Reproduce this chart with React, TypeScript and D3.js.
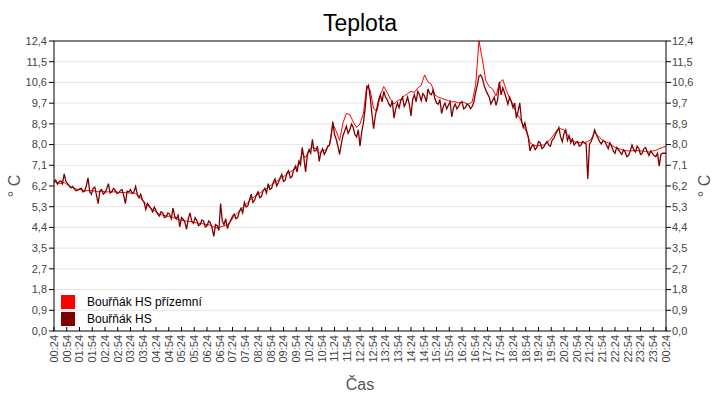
import React from "react";
import * as d3 from "d3";

const title = "Teplota";
const xAxisTitle = "Čas";
const yAxisTitle = "° C";
const seriesNames = ["Bouřňák HS přízemní", "Bouřňák HS"];
const seriesColors = ["#ff0000", "#800000"];

const yTickLabels = ["0,0", "0,9", "1,8", "2,7", "3,5", "4,4", "5,3", "6,2", "7,1", "8,0", "8,9", "9,7", "10,6", "11,5", "12,4"];
const yMax = 12.4;

const xTickLabels = [
  "00:24", "00:54", "01:24", "01:54", "02:24", "02:54", "03:24", "03:54", "04:24", "04:54",
  "05:24", "05:54", "06:24", "06:54", "07:24", "07:54", "08:24", "08:54", "09:24", "09:54",
  "10:24", "10:54", "11:24", "11:54", "12:24", "12:54", "13:24", "13:54", "14:24", "14:54",
  "15:24", "15:54", "16:24", "16:54", "17:24", "17:54", "18:24", "18:54", "19:24", "19:54",
  "20:24", "20:54", "21:24", "21:54", "22:24", "22:54", "23:24", "23:54", "00:24",
];
const tickStepMinutes = 30;
const totalMinutes = 1440;
const groundStepMinutes = 8;
const hsStepMinutes = 4;

// Bouřňák HS přízemní (red), one value every 8 minutes from 00:24
const groundValues = [
  6.4, 6.35, 6.3, 6.35, 6.25, 6.15, 6.1, 6.05, 6.05, 6.0,
  6.0, 6.0, 5.98, 5.95, 5.98, 5.95, 5.95, 5.95, 5.95, 5.93,
  5.92, 5.92, 5.9, 5.9, 5.88, 5.75, 5.6, 5.45, 5.3, 5.2,
  5.1, 5.0, 4.95, 4.92, 4.9, 4.85, 4.8, 4.75, 4.72, 4.7,
  4.68, 4.65, 4.62, 4.6, 4.58, 4.55, 4.52, 4.45, 4.4, 4.45,
  4.5, 4.55, 4.7, 4.9, 5.05, 5.2, 5.35, 5.5, 5.65, 5.75,
  5.85, 5.95, 6.05, 6.15, 6.25, 6.35, 6.45, 6.55, 6.65, 6.75,
  6.85, 6.95, 7.15, 7.6, 7.4, 7.75, 7.85, 7.8, 7.6, 7.7,
  7.75, 7.95, 8.85, 8.55, 8.15, 8.9, 9.3, 9.25, 8.95, 8.7,
  8.85, 9.3, 10.5, 10.3, 9.5, 9.4, 10.1, 10.45, 10.2, 9.9,
  9.7, 9.85, 9.9, 10.05, 10.15, 10.25, 10.2, 10.4, 10.5, 10.95,
  10.65, 10.55, 10.1, 10.0, 9.95, 9.9, 9.85, 9.8, 9.8, 9.75,
  9.8, 9.75, 9.7, 9.8, 10.5, 12.4, 11.6, 10.7, 10.45, 10.35,
  10.05, 10.6, 10.75, 10.3, 9.95, 9.7, 9.3, 9.1, 8.8, 8.5,
  8.05, 7.95, 7.9, 7.95, 7.95, 8.05, 8.2, 8.4, 8.6, 8.65,
  8.6, 8.4, 8.2, 8.1, 8.05, 8.05, 8.05, 8.1, 8.2, 8.5,
  8.35, 8.2, 8.1, 8.05, 7.95, 7.85, 7.8, 7.75, 7.72, 7.7,
  7.7, 7.72, 7.7, 7.7, 7.68, 7.65, 7.7, 7.72, 7.8, 7.85,
  7.9,
];

// Bouřňák HS (dark red), one value every 4 minutes from 00:24
const hsValues = [
  6.35, 6.45, 6.28, 6.38, 6.42, 6.3, 6.72, 6.4, 6.3, 6.2,
  6.12, 6.18, 6.08, 6.0, 6.02, 6.08, 6.1, 5.95, 5.98, 6.2,
  6.55, 5.95, 5.85, 6.1, 6.15, 5.8, 5.45, 6.0, 6.05, 5.85,
  5.92, 6.08, 6.3, 5.9, 5.95, 6.1, 6.02, 5.88, 5.9, 6.0,
  6.05, 5.8, 5.45, 5.98, 5.95, 6.05, 5.88, 5.95, 6.18, 5.85,
  5.7, 5.85, 5.6, 5.5, 5.2, 5.45, 5.35, 5.25, 5.1, 5.3,
  5.15, 5.0, 4.92, 5.1, 5.05, 4.85, 4.88, 5.05, 5.0, 4.8,
  5.25, 4.9, 4.8, 4.95, 4.45, 4.85, 4.78, 4.65, 4.35, 4.8,
  5.05, 4.7, 4.6, 4.85, 4.72, 4.5, 4.55, 4.75, 4.7, 4.45,
  4.5, 4.7, 4.62, 4.4, 4.05, 4.55, 4.5, 4.3, 5.45, 4.7,
  4.55, 4.8, 4.38, 4.6, 4.75, 4.9, 5.0, 4.8, 4.85, 5.1,
  5.25, 5.05, 5.5, 5.3, 5.35, 5.6, 5.85, 5.5, 5.6, 5.8,
  5.95, 5.7, 5.75, 6.0, 6.1, 5.9, 6.3, 6.05, 6.1, 6.35,
  6.5, 6.2, 6.35, 6.55, 6.7, 6.4, 6.45, 6.75, 6.85, 6.55,
  6.6, 6.9, 7.05, 6.8, 7.25, 7.1, 7.85, 7.4, 6.8, 7.5,
  7.75, 7.6, 8.2, 7.7, 7.7, 7.9, 7.25, 7.65, 7.8, 7.55,
  7.7, 7.9, 7.95, 8.3, 8.95, 8.4, 8.2, 7.9, 7.55, 8.0,
  8.35, 8.55, 8.75, 8.45, 8.6, 8.85, 8.7, 8.4, 8.3, 8.6,
  7.9, 8.5, 8.9, 9.5, 10.35, 10.5, 10.0, 9.3, 8.65, 9.2,
  9.55, 9.9, 10.1, 9.8, 10.25, 10.0, 9.9, 9.7, 9.6, 9.85,
  9.1, 9.5, 9.75, 9.55, 9.85, 10.0, 9.6, 9.75, 10.0, 9.7,
  9.2, 9.9, 10.1, 9.8, 10.25, 10.1, 9.85, 10.15, 10.05, 9.8,
  10.35, 10.15, 10.1, 10.3, 9.95, 9.75, 9.7, 9.9, 9.3, 9.6,
  9.75, 9.5, 9.65, 9.8, 9.15, 9.55, 9.7, 9.5, 9.6, 9.75,
  9.8, 9.5, 9.55, 9.7, 9.65, 9.5, 9.6, 9.8, 10.2, 10.5,
  10.9, 10.95, 10.8, 10.5, 10.3, 10.15, 10.0, 9.7, 9.85, 10.0,
  9.65, 9.9, 10.65, 10.1, 10.4, 10.2, 9.95, 9.7, 10.0, 9.8,
  9.55, 9.75, 9.1, 9.4, 9.75, 9.0, 8.7, 8.9, 8.55, 8.3,
  7.7, 7.9, 7.95, 7.75, 7.85, 8.1, 8.05, 7.8, 7.85, 8.0,
  8.1, 7.95, 7.9, 8.15, 8.25, 8.4, 8.55, 8.7, 8.3, 8.1,
  8.45, 8.6, 8.15, 8.35, 8.05, 8.2, 7.95, 8.05, 8.1, 7.9,
  7.95, 8.1, 8.05, 8.0, 6.5, 8.0, 8.1, 8.3, 8.6, 8.4,
  8.25, 8.1, 8.0, 8.15, 8.1, 7.95, 7.8, 8.05, 7.9, 7.7,
  7.6, 7.85, 7.75, 7.65, 7.55, 7.75, 7.65, 7.45, 7.5, 7.7,
  7.95, 7.75, 7.65, 7.9, 7.8, 7.55, 7.6, 7.8, 7.85, 7.65,
  7.5, 7.7, 7.6, 7.5, 7.45, 7.6, 7.05, 7.55, 7.6, 7.6,
  7.6,
];

const W = 720;
const H = 400;
const M = { left: 54, right: 666, top: 41, bottom: 331 };
const FONT = "Arial, 'Liberation Sans', Helvetica, sans-serif";

export default function App() {
  const x = d3.scaleLinear().domain([0, totalMinutes]).range([M.left, M.right]);
  const y = d3.scaleLinear().domain([0, yMax]).range([M.bottom, M.top]);

  const makeLine = (step: number) =>
    d3
      .line<number>()
      .x((_, i) => x(i * step))
      .y((d) => y(Math.min(d, yMax)));

  const yTicks = yTickLabels.map((label, i) => ({ label, v: (i * yMax) / (yTickLabels.length - 1) }));
  const xTicks = xTickLabels.map((label, i) => ({ label, m: i * tickStepMinutes }));
  const series = [
    { vals: groundValues, step: groundStepMinutes, width: 1 },
    { vals: hsValues, step: hsStepMinutes, width: 1.3 },
  ];

  const tickColor = "#444";
  return (
    <svg width={W} height={H} style={{ position: "absolute", left: 0, top: 0, background: "#fff" }} fontFamily={FONT}>
      <rect x={0} y={0} width={W} height={H} fill="#fff" />
      <text x={360} y={31} textAnchor="middle" fontSize={23} fill="#000">{title}</text>

      {yTicks.map((t, i) => (
        <g key={"g" + i}>
          {i > 0 && i < yTicks.length - 1 && (
            <line x1={M.left} x2={M.right} y1={y(t.v)} y2={y(t.v)} stroke="#e6e6e6" strokeWidth={1} />
          )}
          <line x1={M.left - 5} x2={M.left} y1={y(t.v)} y2={y(t.v)} stroke="#000" />
          <line x1={M.right} x2={M.right + 5} y1={y(t.v)} y2={y(t.v)} stroke="#000" />
          <text x={M.left - 7} y={y(t.v)} dy="0.35em" textAnchor="end" fontSize={11} fill={tickColor}>{t.label}</text>
          <text x={M.right + 6} y={y(t.v)} dy="0.35em" textAnchor="start" fontSize={11} fill={tickColor}>{t.label}</text>
        </g>
      ))}

      {xTicks.map((t, i) => (
        <g key={"x" + i}>
          <line x1={x(t.m)} x2={x(t.m)} y1={M.bottom} y2={M.bottom - 4} stroke="#000" />
          <text
            transform={`translate(${x(t.m)},${M.bottom + 4}) rotate(-90)`}
            dy="0.35em"
            textAnchor="end"
            fontSize={11}
            fill={tickColor}
          >
            {t.label}
          </text>
        </g>
      ))}

      {series.map((s, si) => (
        <path
          key={"s" + si}
          d={makeLine(s.step)(s.vals) || ""}
          fill="none"
          stroke={seriesColors[si]}
          strokeWidth={s.width}
          strokeLinejoin="miter"
        />
      ))}

      <rect x={M.left} y={M.top} width={M.right - M.left} height={M.bottom - M.top} fill="none" stroke="#000" strokeWidth={1} />

      {seriesNames.map((name, i) => (
        <g key={"l" + i}>
          <rect x={61} y={295 + i * 17} width={14} height={14} fill={seriesColors[i]} />
          <text x={87} y={302 + i * 17} dy="0.35em" fontSize={12} fill="#000">{name}</text>
        </g>
      ))}

      <text transform={`translate(20,${(M.top + M.bottom) / 2}) rotate(-90)`} textAnchor="middle" fontSize={16} fill="#555">{yAxisTitle}</text>
      <text transform={`translate(710,${(M.top + M.bottom) / 2}) rotate(-90)`} textAnchor="middle" fontSize={16} fill="#555">{yAxisTitle}</text>
      <text x={360} y={390} textAnchor="middle" fontSize={16} fill="#555">{xAxisTitle}</text>
    </svg>
  );
}
